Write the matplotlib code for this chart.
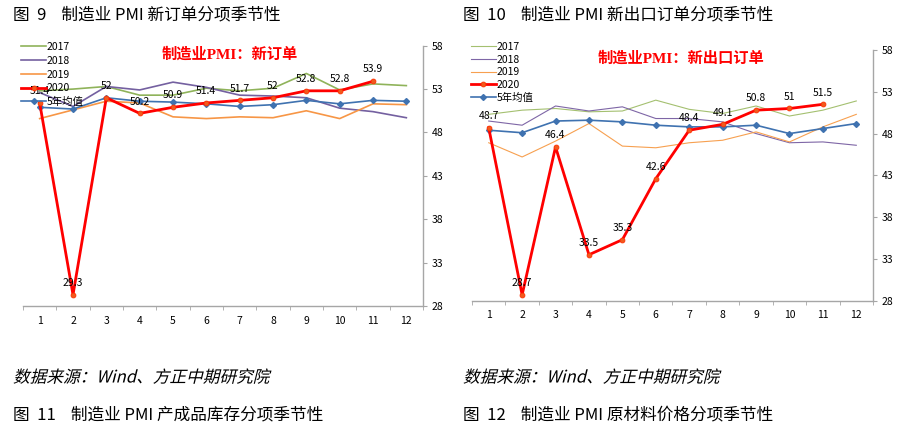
import numpy as np
import matplotlib
matplotlib.use("Agg")
import matplotlib.pyplot as plt
from matplotlib.patheffects import AbstractPathEffect
from matplotlib.transforms import Affine2D

plt.rcParams['font.family'] = ['Noto Sans CJK SC', 'DejaVu Sans']

months = np.arange(1, 13)
month_labels = [str(m) for m in months]
y_ticks = [28, 33, 38, 43, 48, 53, 58]
series_names = ['2017', '2018', '2019', '2020', '5年均值']

# 新订单
new_2017 = [52.8, 53.0, 53.3, 52.3, 52.3, 53.1, 52.8, 53.1, 54.8, 52.9, 53.6, 53.4]
new_2018 = [52.6, 51.0, 53.3, 52.9, 53.8, 53.2, 52.3, 52.2, 52.0, 50.8, 50.4, 49.7]
new_2019 = [49.6, 50.6, 51.6, 51.4, 49.8, 49.6, 49.8, 49.7, 50.5, 49.6, 51.3, 51.2]
new_2020 = [51.4, 29.3, 52.0, 50.2, 50.9, 51.4, 51.7, 52.0, 52.8, 52.8, 53.9]
new_avg = [50.9, 50.7, 52.0, 51.6, 51.5, 51.3, 51.0, 51.2, 51.7, 51.3, 51.7, 51.6]

# 新出口订单
exp_2017 = [50.3, 50.8, 51.0, 50.6, 50.7, 52.0, 50.9, 50.4, 51.3, 50.1, 50.8, 51.9]
exp_2018 = [49.5, 49.0, 51.3, 50.7, 51.2, 49.8, 49.8, 49.4, 48.0, 46.9, 47.0, 46.6]
exp_2019 = [46.9, 45.2, 47.1, 49.2, 46.5, 46.3, 46.9, 47.2, 48.2, 47.0, 48.8, 50.3]
exp_2020 = [48.7, 28.7, 46.4, 33.5, 35.3, 42.6, 48.4, 49.1, 50.8, 51.0, 51.5]
exp_avg = [48.4, 48.1, 49.5, 49.6, 49.4, 49.0, 48.8, 48.8, 49.0, 48.0, 48.6, 49.2]

W, H = 903, 430
fig = plt.figure(figsize=(W / 100, H / 100), dpi=100)


class Slant(AbstractPathEffect):
    # fake italic for CJK text: shear the glyph path around its origin
    def draw_path(self, renderer, gc, tpath, affine, rgbFace=None):
        x0, y0 = affine.transform((0, 0))
        shear = Affine2D().translate(-x0, -y0).skew_deg(14, 0).translate(x0, y0)
        renderer.draw_path(gc, tpath, affine + shear, rgbFace)


def px_axes(x0, x1, y_top, y_bot):
    return fig.add_axes([x0 / W, 1 - y_bot / H, (x1 - x0) / W, (y_bot - y_top) / H])


def seasonal(ax, s17, s18, s19, s20, avg, title, thin, title_xy, legend_pos, legend_spacing):
    lw = 0.8 if thin else 1.2
    ax.plot(months, s17, color='#8FB35A' if not thin else '#A4C070', lw=lw, label=series_names[0])
    ax.plot(months, s18, color='#7460A0' if not thin else '#7E66A6', lw=lw, label=series_names[1])
    ax.plot(months, s19, color='#F79646' if not thin else '#F7A050', lw=lw, label=series_names[2])
    x20 = months[:len(s20)]
    ax.plot(x20, s20, color='#FF0000', lw=2.0, marker='o', ms=3.5,
            mfc='#F05A1E', mec='#FF3000', mew=0.6, label=series_names[3], zorder=5)
    ax.plot(months, avg, color='#3F72B0', lw=1.2, marker='D', ms=3,
            mfc='#3F72B0', mec='#3F72B0', label=series_names[4], zorder=4)

    for x, v in zip(x20, s20):
        ax.annotate('{:g}'.format(v), (x, v), xytext=(0, 8.5), textcoords='offset points',
                    ha='center', va='center', fontsize=7.5, zorder=6)

    ax.set_xlim(0.5, 12.5)
    ax.set_ylim(28, 58)
    ax.yaxis.tick_right()
    ax.set_yticks(y_ticks)
    ax.set_xticks(months)
    ax.set_xticklabels(month_labels)
    ax.set_xticks(np.arange(0.5, 13, 1), minor=True)
    ax.tick_params(axis='x', which='major', length=0, pad=7, labelsize=7.5)
    ax.tick_params(axis='x', which='minor', length=3, direction='out', color='#A6A6A6')
    ax.tick_params(axis='y', length=3, direction='out', color='#A6A6A6', labelsize=7.5, pad=3)
    for side in ['top', 'left']:
        ax.spines[side].set_visible(False)
    for side in ['right', 'bottom']:
        ax.spines[side].set_color('#A6A6A6')
        ax.spines[side].set_linewidth(1.0)

    fig.text(title_xy[0] / W, 1 - title_xy[1] / H, title,
             ha='center', va='center', color='#FF0000', fontsize=11, fontweight='bold',
             family=['Liberation Serif', 'Noto Sans CJK SC'])

    leg = ax.legend(loc='upper left', bbox_to_anchor=legend_pos, bbox_transform=fig.transFigure,
                    frameon=False, fontsize=7.5, handlelength=2.4, handletextpad=0.1,
                    labelspacing=legend_spacing, borderpad=0, borderaxespad=0)
    leg.set_zorder(10)


ax1 = px_axes(23, 423, 45.7, 306)
seasonal(ax1, new_2017, new_2018, new_2019, new_2020, new_avg,
         '制造业PMI：新订单', False, (230, 54), (21 / W, 1 - 42 / H), 0.36)

ax2 = px_axes(472, 873, 50, 300.7)
seasonal(ax2, exp_2017, exp_2018, exp_2019, exp_2020, exp_avg,
         '制造业PMI：新出口订单', True, (681, 58), (471 / W, 1 - 42 / H), 0.26)

# captions
cap = dict(fontsize=12, va='center')
fig.text(13 / W, 1 - 15 / H, '图  9    制造业 PMI 新订单分项季节性', **cap)
fig.text(463 / W, 1 - 15 / H, '图  10    制造业 PMI 新出口订单分项季节性', **cap)
fig.text(13 / W, 1 - 415 / H, '图  11    制造业 PMI 产成品库存分项季节性', **cap)
fig.text(463 / W, 1 - 415 / H, '图  12    制造业 PMI 原材料价格分项季节性', **cap)
for x in (13, 463):
    fig.text(x / W, 1 - 378 / H, '数据来源：Wind、方正中期研究院', fontsize=12, va='center',
             path_effects=[Slant()])

fig.savefig('out.png', dpi=100)
